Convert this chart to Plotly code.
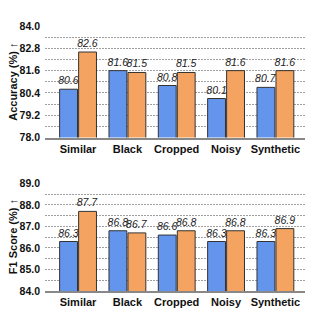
import plotly.graph_objects as go
from plotly.subplots import make_subplots

categories = ["Similar", "Black", "Cropped", "Noisy", "Synthetic"]
acc_blue = [80.6, 81.6, 80.8, 80.1, 80.7]
acc_orange = [82.6, 81.5, 81.5, 81.6, 81.6]
f1_blue = [86.3, 86.8, 86.6, 86.3, 86.3]
f1_orange = [87.7, 86.7, 86.8, 86.8, 86.9]

acc_ticks = [78.0, 79.2, 80.4, 81.6, 82.8, 84.0]
f1_ticks = [84.0, 85.0, 86.0, 87.0, 88.0, 89.0]
titles = ["Accuracy (%) ↑", "F1 Score (%) ↑"]

BLUE = "#6495ED"
ORANGE = "#F4A460"
EDGE = "#333333"
FONT = "Liberation Sans, Arial, sans-serif"

W, H = 306, 306
ML, MR, MT, MB = 37, 9, 18, 23
PW = W - ML - MR

fig = make_subplots(rows=2, cols=1, vertical_spacing=0.1)

def add_pair(row, b, o):
    for vals, col in ((b, BLUE), (o, ORANGE)):
        fig.add_trace(go.Bar(
            x=list(range(len(categories))), y=vals,
            marker=dict(color=col, line=dict(color=EDGE, width=1)),
            text=[f"{v:.1f}" for v in vals], textposition="outside",
            textfont=dict(family=FONT, size=10.5, color="#222222", style="italic"),
            constraintext="none", cliponaxis=False, showlegend=False,
        ), row=row, col=1)

add_pair(1, acc_blue, acc_orange)
add_pair(2, f1_blue, f1_orange)

fig.update_layout(
    width=W, height=H,
    margin=dict(l=ML, r=MR, t=MT, b=MB),
    plot_bgcolor="white", paper_bgcolor="white",
    barmode="group", bargap=0.23, bargroupgap=0.06,
    font=dict(family=FONT, color="#111111"),
)

domains = [[0.579, 1.0], [0.0, 0.406]]
for r, ticks, ttl, dom in ((1, acc_ticks, titles[0], domains[0]),
                           (2, f1_ticks, titles[1], domains[1])):
    lo, hi = ticks[0], ticks[-1]
    step = (ticks[1] - ticks[0]) / 2
    fig.update_yaxes(
        row=r, col=1, range=[lo, hi], domain=dom, automargin=False,
        tickmode="array", tickvals=ticks, ticktext=[f"{t:.1f}" for t in ticks],
        tickfont=dict(family=FONT, size=10.5, color="#111111", weight="bold"),
        ticklabelstandoff=4,
        showgrid=False, zeroline=False, ticks="", ticklen=0,
        minor=dict(dtick=step, tick0=lo, showgrid=True, gridcolor="#a0a0a0", griddash="2px,1px", gridwidth=0.8),
    )
    fig.add_annotation(
        text=ttl, textangle=-90, showarrow=False,
        xref="paper", yref="paper", x=-32 / PW, y=(dom[0] + dom[1]) / 2,
        xanchor="center", yanchor="middle", borderpad=0,
        font=dict(family=FONT, size=11, color="#111111", weight="bold"),
    )
    fig.update_xaxes(
        row=r, col=1, range=[-0.67, 4.6], automargin=False,
        tickmode="array", tickvals=list(range(len(categories))), ticktext=categories,
        tickfont=dict(family=FONT, size=11, color="#111111", weight="bold"),
        showline=True, linecolor="#888888", linewidth=1.5, showgrid=False, ticks="",
    )

fig.write_html("out.html")
